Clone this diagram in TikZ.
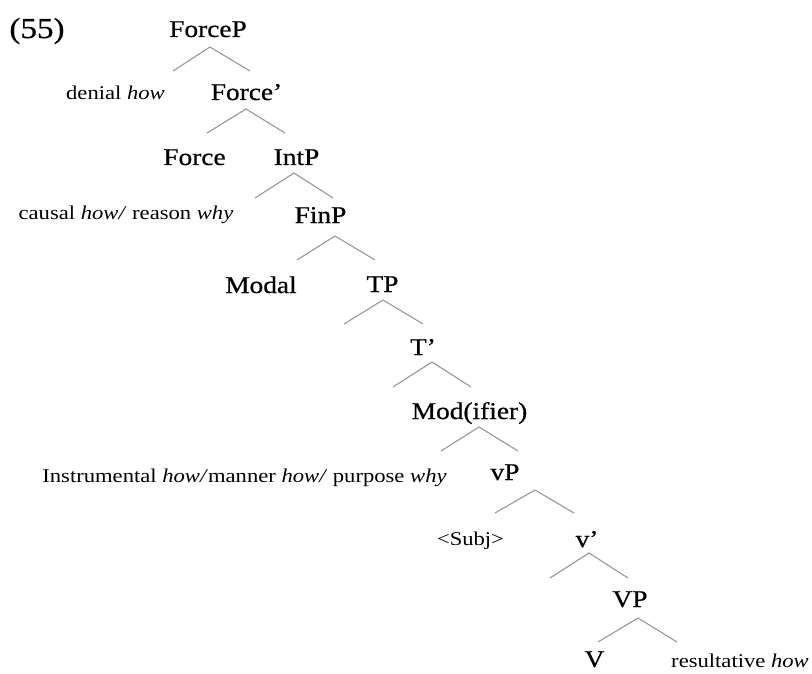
\documentclass[tikz,border=0pt]{standalone}
\usepackage{fontspec}
\setmainfont{Liberation Serif}[FakeStretch=1.16]
\newfontfamily\catfont{Liberation Serif}[FakeStretch=1.14,FakeBold=0.6]
\begin{document}
\definecolor{branchgray}{RGB}{150,150,150}
\begin{tikzpicture}[x=1pt,y=-1pt,
  cat/.style={inner sep=0pt,anchor=base,font=\catfont\fontsize{24}{28}\selectfont},
  gloss/.style={inner sep=0pt,anchor=base,font=\fontsize{19.5}{23}\selectfont},
  branch/.style={draw=branchgray,line width=1.1pt}]
\useasboundingbox (0,0) rectangle (812,674);

% example number
\node[inner sep=0pt,anchor=base,font=\catfont\fontsize{29}{32}\selectfont] (ex) at (37,38) {(55)};

% category labels
\node[cat] (ForceP) at (208,37) {ForceP};
\node[gloss] (denial) at (115.5,100) {denial \textit{how}};
\node[cat] (Forcebar) at (246.5,100) {Force’};
\node[cat] (Force) at (194.5,165) {Force};
\node[cat] (IntP) at (296.5,165) {IntP};
\node[gloss] (causal) at (126,220) {causal \textit{how/} reason \textit{why}};
\node[cat] (FinP) at (320.5,223) {FinP};
\node[cat] (Modal) at (261,293) {Modal};
\node[cat] (TP) at (382.5,292) {TP};
\node[cat] (Tbar) at (423,355) {T’};
\node[cat] (Mod) at (469.5,419) {Mod(ifier)};
\node[gloss] (instr) at (244.5,482) {Instrumental \textit{how/}manner \textit{how/} purpose \textit{why}};
\node[cat] (vP) at (505,480) {vP};
\node[gloss] (Subj) at (470.5,545) {<Subj>};
\node[cat] (vbar) at (587,547) {v’};
\node[cat] (VP) at (630,607) {VP};
\node[cat] (V) at (594.5,667) {V};
\node[gloss] (result) at (740,667) {resultative \textit{how}};

% branch points: apex, left foot, right foot
\coordinate (b1) at (210,47);  \coordinate (b1l) at (173,71);  \coordinate (b1r) at (250,71);
\coordinate (b2) at (246,109); \coordinate (b2l) at (207,133); \coordinate (b2r) at (285,133);
\coordinate (b3) at (294,173); \coordinate (b3l) at (255,198); \coordinate (b3r) at (333,198);
\coordinate (b4) at (335,236); \coordinate (b4l) at (297,260); \coordinate (b4r) at (375,260);
\coordinate (b5) at (383,300); \coordinate (b5l) at (344,324); \coordinate (b5r) at (423,324);
\coordinate (b6) at (432,362); \coordinate (b6l) at (393,387); \coordinate (b6r) at (471,387);
\coordinate (b7) at (479,427); \coordinate (b7l) at (441,451); \coordinate (b7r) at (518,451);
\coordinate (b8) at (535,490); \coordinate (b8l) at (495,513); \coordinate (b8r) at (574,513);
\coordinate (b9) at (589,553); \coordinate (b9l) at (550,578); \coordinate (b9r) at (628,578);
\coordinate (b10) at (638,618); \coordinate (b10l) at (598,642); \coordinate (b10r) at (677,642);

\foreach \b in {b1,b2,b3,b4,b5,b6,b7,b8,b9,b10}
  \draw[branch] (\b l) -- (\b) -- (\b r);
\end{tikzpicture}
\end{document}
